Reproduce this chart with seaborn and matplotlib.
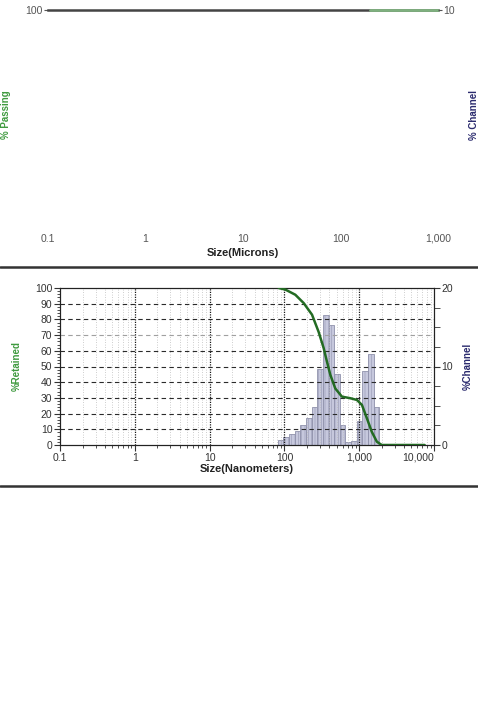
import matplotlib
matplotlib.use('Agg')

import numpy as np
import matplotlib.pyplot as plt
import seaborn as sns
from matplotlib.lines import Line2D
from matplotlib.ticker import FixedLocator, NullFormatter, FuncFormatter

# --- data ------------------------------------------------------------
# channel edges (nm), Microtrac 2^(1/4) progression
bin_lo = [81.7, 97.2, 115.6, 137.5, 163.5, 194.4, 231.2, 275.0, 327.0,
          388.9, 462.5, 550.0, 654.1, 777.8, 925.0, 1100.0, 1308.0, 1556.0]
bin_hi = [97.2, 115.6, 137.5, 163.5, 194.4, 231.2, 275.0, 327.0, 388.9,
          462.5, 550.0, 654.1, 777.8, 925.0, 1100.0, 1308.0, 1556.0, 1850.0]
channel_pct = [0.6, 1.0, 1.4, 1.8, 2.5, 3.4, 4.8, 9.7, 16.5,
               15.3, 9.0, 2.5, 0.4, 0.5, 3.1, 9.4, 11.6, 4.9]

# %Retained curve
ret_size = [84, 103, 140, 181, 234, 287, 335, 371, 411, 479, 588, 760,
            932, 1088, 1268, 1470, 1722, 2000, 3000, 5000, 7500]
ret_pct = [100, 99, 95.7, 90.4, 83, 72, 61.7, 53, 44.7, 36, 30.8, 29.8,
           28.7, 25.5, 17, 8.5, 2.1, 0, 0, 0, 0]

# top (cropped) chart: only the 100 % passing line shows
pass_size = [200, 1000]
pass_pct = [100, 100]

x_major = [0.1, 1, 10, 100, 1000, 10000]

sns.set_style("white")
plt.rcParams['font.family'] = ['Liberation Sans', 'DejaVu Sans']
plt.rcParams['hatch.linewidth'] = 0.35

GREEN_TXT = '#3f9a3f'
NAVY_TXT = '#2b2b6e'
TICK_C = '#333333'


def size_fmt(v, pos):
    if v < 1:
        return f"{v:g}"
    return f"{int(round(v)):,}"


fig = plt.figure(figsize=(4.78, 7.14), dpi=100)

# ------------------------------------------------------------
# top chart (mostly blanked in the source)
# ------------------------------------------------------------
axt = fig.add_axes([48 / 478, 1 - 228 / 714, 390 / 478, 218.5 / 714])
axt.set_xscale('log')
axt.set_xlim(0.1, 1000)
axt.set_ylim(0, 100)
for s in ['left', 'right', 'bottom']:
    axt.spines[s].set_visible(False)
axt.spines['top'].set_color('#444444')
axt.spines['top'].set_linewidth(1.8)
sns.lineplot(x=pass_size, y=pass_pct, ax=axt, color='#7fb07f', linewidth=2,
             clip_on=False, zorder=5)
axt.set_yticks([100])
axt.set_yticklabels(['100'])
axt.xaxis.set_major_locator(FixedLocator([0.1, 1, 10, 100, 1000]))
axt.xaxis.set_major_formatter(FuncFormatter(size_fmt))
axt.xaxis.set_minor_formatter(NullFormatter())
axt.tick_params(axis='x', which='both', length=0, labelsize=7.5, colors='#555555', pad=4)
axt.tick_params(axis='y', length=3, labelsize=7.5, colors='#555555', pad=1)
axt.set_xlabel("Size(Microns)", fontsize=8, fontweight='bold', color='#222222', labelpad=3)
axt.set_ylabel("% Passing", fontsize=7, fontweight='bold', color=GREEN_TXT)
axt.yaxis.set_label_coords((11 - 48) / 390, 0.517)
axt2 = axt.twinx()
axt2.set_ylim(0, 10)
for s in ['left', 'right', 'bottom', 'top']:
    axt2.spines[s].set_visible(False)
axt2.set_yticks([10])
axt2.set_yticklabels(['10'])
axt2.tick_params(axis='y', length=3, labelsize=7.5, colors='#555555', pad=1)
axt2.set_ylabel("% Channel", fontsize=7, fontweight='bold', color=NAVY_TXT)
axt2.yaxis.set_label_coords((469 - 48) / 390, 0.517)

# separators
for yy in [267, 486]:
    fig.add_artist(Line2D([0, 1], [1 - yy / 714, 1 - yy / 714], transform=fig.transFigure,
                          color='#333333', linewidth=1.8))

# ------------------------------------------------------------
# middle chart
# ------------------------------------------------------------
ax = fig.add_axes([60 / 478, 1 - 445 / 714, 374 / 478, 157 / 714])
ax2 = ax.twinx()
ax.set_zorder(ax2.get_zorder() + 1)
ax.patch.set_visible(False)

ax.set_xscale('log')
ax.set_xlim(0.1, 10000)
ax.set_ylim(0, 100)
ax2.set_ylim(0, 20)

# bars on the right axis
lo = np.array(bin_lo)
hi = np.array(bin_hi)
ax2.bar(lo, channel_pct, width=hi - lo, align='edge', color='#c6c8dd',
        edgecolor='#9092ac', linewidth=0.6, hatch='|||||', zorder=2)

# grid
minor_x = [m * 10.0 ** e for e in range(-1, 4) for m in range(2, 10)]
for xv in minor_x:
    ax.axvline(xv, color='#bcbcbc', linestyle=(0, (1, 2)), linewidth=0.6, zorder=0)
for xv in [1, 10, 100, 1000]:
    ax.axvline(xv, color='#1a1a1a', linestyle=(0, (1, 1)), linewidth=0.9, zorder=1)
for yv in range(10, 100, 10):
    c = '#a0a0a0' if yv == 70 else '#2a2a2a'
    ax.axhline(yv, color=c, linestyle=(0, (4, 3)), linewidth=0.8, zorder=1)

# curve
sns.lineplot(x=ret_size, y=ret_pct, ax=ax, color='#236b23', linewidth=1.8, zorder=4)

ax.xaxis.set_major_locator(FixedLocator(x_major))
ax.xaxis.set_minor_locator(FixedLocator(minor_x))
ax.xaxis.set_major_formatter(FuncFormatter(size_fmt))
ax.xaxis.set_minor_formatter(NullFormatter())
ax.set_yticks(range(0, 101, 10))
ax.yaxis.set_minor_locator(FixedLocator(range(0, 101, 2)))
ax2.set_yticks([0, 10, 20])
ax2.yaxis.set_minor_locator(FixedLocator([2.5, 5, 7.5, 12.5, 15, 17.5]))

ax.tick_params(axis='both', which='major', direction='out', length=4, width=0.8,
               labelsize=7.5, colors=TICK_C, pad=1.5)
ax.tick_params(axis='both', which='minor', direction='out', length=2, width=0.6, colors=TICK_C)
ax.tick_params(axis='y', which='both', left=True)
ax.tick_params(axis='x', which='both', bottom=True)
ax2.tick_params(axis='y', which='major', direction='out', length=4, width=0.8,
                labelsize=7.5, colors=TICK_C, pad=1.5)
ax2.tick_params(axis='y', which='minor', direction='out', length=4, width=0.6, colors=TICK_C)

ax.set_xticks(x_major)
ax.set_xticklabels([size_fmt(v, None) for v in x_major])
ax.get_xticklabels()[-1].set_ha('right')

for a in (ax, ax2):
    for s in a.spines.values():
        s.set_color('#222222')
        s.set_linewidth(0.8)

ax.set_xlabel("Size(Nanometers)", fontsize=8, fontweight='bold', color='#222222', labelpad=1)
ax.set_ylabel("%Retained", fontsize=7, fontweight='bold', color=GREEN_TXT)
ax.yaxis.set_label_coords((22 - 60) / 374, 0.5)
ax2.set_ylabel("%Channel", fontsize=7, fontweight='bold', color=NAVY_TXT)
ax2.yaxis.set_label_coords((463 - 60) / 374, 0.5)

fig.savefig("out.png", dpi=100, facecolor='white')
plt.close(fig)
